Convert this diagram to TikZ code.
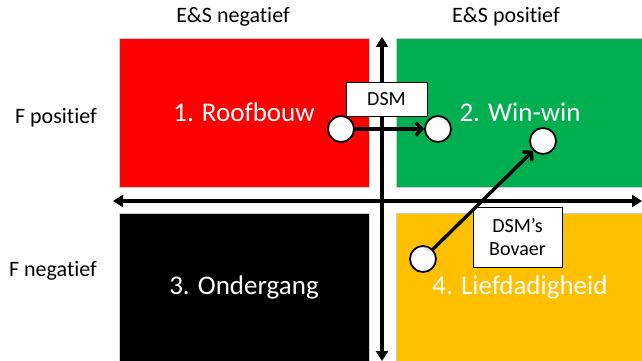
\documentclass[tikz,border=0pt]{standalone}
\usepackage{fontspec}
\setmainfont{Carlito}[Ligatures=NoCommon]
\usetikzlibrary{arrows.meta}
\definecolor{roodkl}{HTML}{FF0000}
\definecolor{groenkl}{HTML}{00B050}
\definecolor{geelkl}{HTML}{FFC000}
\begin{document}
\begin{tikzpicture}[x=1pt,y=-1pt,
  vlak/.style={draw=black!20,line width=0.8pt,text=white,inner sep=0pt,
    minimum width=250pt,minimum height=149pt,font=\fontsize{27}{32}\selectfont},
  as/.style={line width=3.4pt,{Triangle[length=10pt,width=12pt]}-{Triangle[length=10pt,width=12pt]}},
  punt/.style={circle,draw,fill=white,line width=1.8pt,minimum size=26pt,inner sep=0pt},
  pijl/.style={line width=3.4pt,-{Straight Barb[length=6pt,width=13pt]}},
  kader/.style={draw,fill=white,line width=0.8pt,align=center,font=\fontsize{20}{23}\selectfont},
  aslabel/.style={font=\fontsize{22}{26}\selectfont}]
  \useasboundingbox (0,0) rectangle (642,361);
  \fill[white] (0,0) rectangle (642,361);
  \node[vlak,fill=roodkl] (roofbouw) at (244,112.5) {1. Roofbouw};
  \node[vlak,fill=groenkl,minimum width=248pt] (winwin) at (520,112.5) {2. Win-win};
  \node[vlak,fill=black] (ondergang) at (244,287.5) {3. Ondergang};
  \node[vlak,fill=geelkl,minimum width=248pt] (liefdadigheid) at (520,287.5) {4. Liefdadigheid};
  \coordinate (boven) at (382,37);
  \coordinate (onder) at (382,361);
  \coordinate (links) at (113,201);
  \coordinate (rechts) at (642,201);
  \draw[as] (onder) -- (boven);
  \draw[as] (links) -- (rechts);
  \node[aslabel] (esneg) at (233,17) {E\&S negatief};
  \node[aslabel] (espos) at (506,17) {E\&S positief};
  \node[aslabel] (fpos) at (56,118) {F positief};
  \node[aslabel] (fneg) at (53,271) {F negatief};
  \node[kader,minimum width=81pt,minimum height=34pt] (dsm) at (386.5,99) {DSM};
  \node[kader,minimum width=89pt,minimum height=60pt] (bovaer) at (517.5,237) {DSM’s\\Bovaer};
  \node[punt] (dsmvan) at (341,129) {};
  \node[punt] (dsmnaar) at (438,129) {};
  \node[punt] (bovnaar) at (543,141) {};
  \node[punt] (bovvan) at (423,259) {};
  \draw[pijl] (dsmvan) -- (dsmnaar);
  \draw[pijl] (bovvan) -- (bovnaar);
\end{tikzpicture}
\end{document}
